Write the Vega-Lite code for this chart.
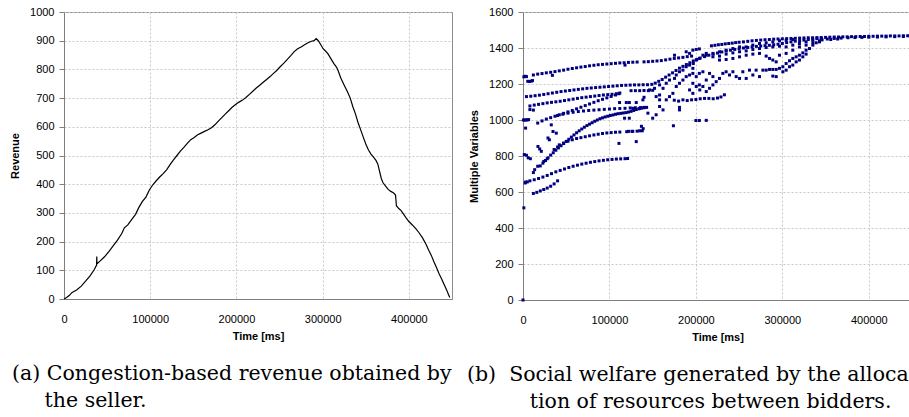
{
  "$schema": "https://vega.github.io/schema/vega-lite/v6.json",
  "background": "white",
  "padding": {"left": 9, "top": 5, "right": 0, "bottom": 0},
  "bounds": "flush",
  "spacing": 71,
  "datasets": {
    "rev": [
      {"t":0,"v":0},{"t":3000,"v":5},{"t":6000,"v":12},{"t":9000,"v":22},{"t":12000,"v":27},{"t":15000,"v":32},{"t":20000,"v":45},{"t":25000,"v":62},{"t":30000,"v":80},{"t":35000,"v":102},{"t":37800,"v":118},{"t":38000,"v":148},{"t":38200,"v":122},{"t":42000,"v":133},{"t":47000,"v":147},{"t":52000,"v":165},{"t":57000,"v":185},{"t":62000,"v":205},{"t":67000,"v":228},{"t":70000,"v":248},{"t":74000,"v":258},{"t":78000,"v":275},{"t":83000,"v":295},{"t":87000,"v":320},{"t":91000,"v":340},{"t":95000,"v":355},{"t":99000,"v":380},{"t":103000,"v":398},{"t":107000,"v":412},{"t":111000,"v":425},{"t":115000,"v":437},{"t":119000,"v":450},{"t":123000,"v":468},{"t":127000,"v":485},{"t":131000,"v":500},{"t":135000,"v":515},{"t":139000,"v":528},{"t":143000,"v":542},{"t":147000,"v":555},{"t":151000,"v":563},{"t":155000,"v":572},{"t":159000,"v":578},{"t":163000,"v":584},{"t":167000,"v":590},{"t":171000,"v":597},{"t":175000,"v":607},{"t":179000,"v":620},{"t":183000,"v":632},{"t":187000,"v":644},{"t":191000,"v":656},{"t":195000,"v":668},{"t":199000,"v":678},{"t":203000,"v":686},{"t":207000,"v":693},{"t":211000,"v":702},{"t":215000,"v":713},{"t":219000,"v":724},{"t":223000,"v":735},{"t":227000,"v":745},{"t":231000,"v":755},{"t":235000,"v":765},{"t":239000,"v":775},{"t":243000,"v":786},{"t":247000,"v":797},{"t":251000,"v":810},{"t":255000,"v":822},{"t":259000,"v":835},{"t":263000,"v":848},{"t":267000,"v":862},{"t":271000,"v":872},{"t":275000,"v":878},{"t":279000,"v":886},{"t":283000,"v":893},{"t":287000,"v":898},{"t":290000,"v":900},{"t":292500,"v":907},{"t":295000,"v":900},{"t":298000,"v":885},{"t":300500,"v":872},{"t":303000,"v":865},{"t":306000,"v":855},{"t":309000,"v":840},{"t":313000,"v":820},{"t":316000,"v":808},{"t":318000,"v":795},{"t":321000,"v":770},{"t":325000,"v":745},{"t":329000,"v":720},{"t":332000,"v":700},{"t":335000,"v":670},{"t":338000,"v":645},{"t":341000,"v":615},{"t":344000,"v":590},{"t":347000,"v":565},{"t":350000,"v":540},{"t":353000,"v":520},{"t":356000,"v":505},{"t":359000,"v":494},{"t":362000,"v":482},{"t":364000,"v":470},{"t":366000,"v":445},{"t":368000,"v":420},{"t":370000,"v":405},{"t":373000,"v":393},{"t":376000,"v":382},{"t":379000,"v":375},{"t":382000,"v":370},{"t":384500,"v":362},{"t":385000,"v":345},{"t":385500,"v":325},{"t":388000,"v":316},{"t":391000,"v":308},{"t":394000,"v":295},{"t":397000,"v":282},{"t":400000,"v":270},{"t":404000,"v":258},{"t":408000,"v":245},{"t":412000,"v":230},{"t":416000,"v":212},{"t":420000,"v":190},{"t":423000,"v":170},{"t":426000,"v":152},{"t":429000,"v":130},{"t":432000,"v":110},{"t":435000,"v":88},{"t":438000,"v":70},{"t":441000,"v":50},{"t":444000,"v":30},{"t":446000,"v":15},{"t":447500,"v":5}
    ],
    "sw": [
      {"t":0,"v":0},{"t":1000,"v":512},{"t":500,"v":1000},{"t":2000,"v":1000},{"t":3500,"v":1000},{"t":5000,"v":1001},{"t":6500,"v":1002},{"t":1000,"v":1240},{"t":2500,"v":1243},{"t":4000,"v":1241},{"t":5500,"v":1215},{"t":7500,"v":1214},{"t":9500,"v":1216},{"t":11000,"v":1219},{"t":3000,"v":955},{"t":1500,"v":808},{"t":4000,"v":804},{"t":6000,"v":790},{"t":8500,"v":785},{"t":2500,"v":650},{"t":5000,"v":656},
      {"t":12000,"v":1250},{"t":17000,"v":1255},{"t":22000,"v":1258},{"t":27000,"v":1262},{"t":32000,"v":1265},{"t":37000,"v":1269},{"t":42000,"v":1273},{"t":47000,"v":1277},{"t":52000,"v":1282},{"t":57000,"v":1286},{"t":62000,"v":1290},{"t":67000,"v":1294},{"t":72000,"v":1297},{"t":77000,"v":1301},{"t":82000,"v":1304},{"t":87000,"v":1307},{"t":92000,"v":1309},{"t":97000,"v":1311},{"t":102000,"v":1313},{"t":107000,"v":1315},{"t":112000,"v":1317},{"t":117000,"v":1318},{"t":122000,"v":1320},{"t":127000,"v":1321},{"t":132000,"v":1322},{"t":140000,"v":1323},{"t":145000,"v":1324},{"t":150000,"v":1326},{"t":155000,"v":1328},{"t":160000,"v":1330},{"t":165000,"v":1334},{"t":170000,"v":1338},{"t":175000,"v":1342},{"t":180000,"v":1345},{"t":185000,"v":1348},{"t":190000,"v":1352},{"t":195000,"v":1355},{"t":34000,"v":1248},{"t":118000,"v":1305},
      {"t":218000,"v":1412},{"t":222000,"v":1415},{"t":226000,"v":1418},{"t":230000,"v":1420},{"t":234000,"v":1423},{"t":238000,"v":1425},{"t":242000,"v":1427},{"t":246000,"v":1430},{"t":250000,"v":1432},{"t":255000,"v":1434},{"t":260000,"v":1437},{"t":265000,"v":1440},{"t":270000,"v":1442},{"t":275000,"v":1444},{"t":280000,"v":1446},{"t":285000,"v":1447},{"t":290000,"v":1449},{"t":295000,"v":1450},{"t":300000,"v":1451},{"t":305000,"v":1452},{"t":310000,"v":1453},{"t":315000,"v":1454},{"t":320000,"v":1455},{"t":325000,"v":1456},{"t":330000,"v":1457},{"t":335000,"v":1457},{"t":340000,"v":1458},{"t":345000,"v":1458},{"t":350000,"v":1459},{"t":355000,"v":1460},{"t":360000,"v":1461},{"t":365000,"v":1461},{"t":370000,"v":1462},{"t":375000,"v":1462},{"t":380000,"v":1463},{"t":385000,"v":1463},{"t":390000,"v":1464},{"t":395000,"v":1464},{"t":400000,"v":1465},{"t":405000,"v":1465},{"t":410000,"v":1466},{"t":415000,"v":1466},{"t":420000,"v":1466},{"t":425000,"v":1467},{"t":430000,"v":1467},{"t":435000,"v":1467},{"t":440000,"v":1468},{"t":445000,"v":1468},{"t":450000,"v":1468},
      {"t":352000,"v":1450},{"t":360000,"v":1453},{"t":368000,"v":1455},{"t":376000,"v":1457},{"t":384000,"v":1458},{"t":392000,"v":1459},{"t":400000,"v":1460},{"t":410000,"v":1461},{"t":420000,"v":1462},{"t":430000,"v":1463},{"t":440000,"v":1464},{"t":448000,"v":1465},{"t":346000,"v":1445},{"t":356000,"v":1447},{"t":364000,"v":1450},
      {"t":4000,"v":1130},{"t":9000,"v":1132},{"t":14000,"v":1135},{"t":19000,"v":1138},{"t":24000,"v":1142},{"t":29000,"v":1146},{"t":34000,"v":1150},{"t":39000,"v":1154},{"t":44000,"v":1158},{"t":49000,"v":1161},{"t":54000,"v":1164},{"t":59000,"v":1167},{"t":64000,"v":1170},{"t":69000,"v":1173},{"t":74000,"v":1176},{"t":79000,"v":1178},{"t":84000,"v":1180},{"t":89000,"v":1182},{"t":94000,"v":1184},{"t":99000,"v":1186},{"t":104000,"v":1188},{"t":109000,"v":1190},{"t":114000,"v":1192},{"t":119000,"v":1193},{"t":124000,"v":1194},{"t":129000,"v":1195},{"t":134000,"v":1195},{"t":139000,"v":1196},{"t":144000,"v":1196},{"t":149000,"v":1198},{"t":153000,"v":1205},{"t":157000,"v":1215},{"t":161000,"v":1225},{"t":165000,"v":1238},{"t":169000,"v":1250},{"t":173000,"v":1262},{"t":177000,"v":1275},{"t":181000,"v":1288},{"t":185000,"v":1298},{"t":189000,"v":1308},{"t":193000,"v":1318},{"t":197000,"v":1328},{"t":201000,"v":1336},{"t":205000,"v":1344},{"t":210000,"v":1352},{"t":215000,"v":1360},{"t":220000,"v":1366},{"t":225000,"v":1372},{"t":230000,"v":1378},{"t":235000,"v":1383},{"t":240000,"v":1388},{"t":245000,"v":1392},{"t":250000,"v":1396},{"t":255000,"v":1400},{"t":260000,"v":1403},{"t":265000,"v":1406},{"t":270000,"v":1409},{"t":275000,"v":1411},{"t":280000,"v":1413},{"t":285000,"v":1415},{"t":290000,"v":1418},{"t":295000,"v":1421},{"t":300000,"v":1425},{"t":305000,"v":1430},{"t":310000,"v":1434},{"t":315000,"v":1438},{"t":320000,"v":1441},{"t":325000,"v":1444},{"t":330000,"v":1447},{"t":335000,"v":1450},{"t":340000,"v":1452},{"t":345000,"v":1454},
      {"t":8000,"v":1078},{"t":13000,"v":1083},{"t":18000,"v":1087},{"t":23000,"v":1091},{"t":28000,"v":1095},{"t":33000,"v":1098},{"t":38000,"v":1101},{"t":43000,"v":1104},{"t":48000,"v":1108},{"t":53000,"v":1112},{"t":58000,"v":1116},{"t":63000,"v":1120},{"t":68000,"v":1124},{"t":73000,"v":1127},{"t":78000,"v":1130},{"t":83000,"v":1133},{"t":88000,"v":1136},{"t":93000,"v":1139},{"t":98000,"v":1141},{"t":103000,"v":1143},{"t":108000,"v":1146},{"t":112000,"v":1150},{"t":8000,"v":1058},{"t":12000,"v":1055},
      {"t":17000,"v":983},{"t":22000,"v":995},{"t":27000,"v":1005},{"t":32000,"v":1013},{"t":37000,"v":1021},{"t":42000,"v":1029},{"t":47000,"v":1037},{"t":52000,"v":1045},{"t":57000,"v":1053},{"t":62000,"v":1062},{"t":67000,"v":1071},{"t":72000,"v":1080},{"t":77000,"v":1089},{"t":82000,"v":1098},{"t":87000,"v":1107},{"t":92000,"v":1115},{"t":97000,"v":1123},{"t":102000,"v":1131},{"t":107000,"v":1139},{"t":111000,"v":1146},
      {"t":40000,"v":1025},{"t":46000,"v":1032},{"t":52000,"v":1038},{"t":58000,"v":1043},{"t":64000,"v":1047},{"t":70000,"v":1050},{"t":76000,"v":1053},{"t":82000,"v":1055},{"t":88000,"v":1057},{"t":94000,"v":1059},{"t":100000,"v":1061},{"t":106000,"v":1063},{"t":112000,"v":1064},{"t":118000,"v":1065},{"t":124000,"v":1067},{"t":130000,"v":1068},{"t":136000,"v":1069},{"t":140000,"v":1070},
      {"t":20000,"v":745},{"t":23000,"v":760},{"t":26000,"v":775},{"t":29000,"v":790},{"t":32000,"v":805},{"t":35000,"v":818},{"t":38000,"v":832},{"t":41000,"v":845},{"t":44000,"v":857},{"t":47000,"v":869},{"t":50000,"v":881},{"t":53000,"v":893},{"t":56000,"v":905},{"t":59000,"v":917},{"t":62000,"v":929},{"t":65000,"v":940},{"t":68000,"v":950},{"t":71000,"v":960},{"t":74000,"v":969},{"t":77000,"v":977},{"t":80000,"v":985},{"t":83000,"v":993},{"t":86000,"v":1000},{"t":89000,"v":1007},{"t":92000,"v":1012},{"t":95000,"v":1017},{"t":98000,"v":1021},{"t":101000,"v":1025},{"t":104000,"v":1028},{"t":107000,"v":1032},{"t":110000,"v":1035},{"t":113000,"v":1037},{"t":116000,"v":1039},{"t":119000,"v":1041},{"t":122000,"v":1044},{"t":125000,"v":1048},{"t":128000,"v":1053},{"t":131000,"v":1058},{"t":134000,"v":1062},{"t":137000,"v":1066},{"t":140000,"v":1068},{"t":143000,"v":1070},
      {"t":42000,"v":862},{"t":47000,"v":872},{"t":52000,"v":882},{"t":57000,"v":890},{"t":62000,"v":897},{"t":67000,"v":902},{"t":72000,"v":907},{"t":77000,"v":912},{"t":82000,"v":917},{"t":87000,"v":921},{"t":92000,"v":925},{"t":97000,"v":928},{"t":102000,"v":930},{"t":107000,"v":932},{"t":112000,"v":933},{"t":120000,"v":935},{"t":126000,"v":937},{"t":132000,"v":938},{"t":138000,"v":940},
      {"t":3000,"v":655},{"t":8000,"v":662},{"t":13000,"v":668},{"t":18000,"v":675},{"t":23000,"v":683},{"t":28000,"v":692},{"t":33000,"v":702},{"t":38000,"v":712},{"t":43000,"v":720},{"t":48000,"v":728},{"t":53000,"v":736},{"t":58000,"v":743},{"t":63000,"v":749},{"t":68000,"v":755},{"t":73000,"v":760},{"t":78000,"v":765},{"t":83000,"v":769},{"t":88000,"v":773},{"t":93000,"v":776},{"t":98000,"v":779},{"t":103000,"v":781},{"t":108000,"v":783},{"t":113000,"v":784},{"t":118000,"v":785},{"t":121000,"v":786},
      {"t":12000,"v":592},{"t":16000,"v":598},{"t":20000,"v":606},{"t":24000,"v":614},{"t":28000,"v":622},{"t":32000,"v":632},{"t":36000,"v":645},{"t":40000,"v":662},
      {"t":17300,"v":853},{"t":19300,"v":839},{"t":21200,"v":826},{"t":28900,"v":900},{"t":30500,"v":890},{"t":34700,"v":936},{"t":38500,"v":927},{"t":32700,"v":973},{"t":13500,"v":724},{"t":17000,"v":743},{"t":12000,"v":708},{"t":40000,"v":850},{"t":36000,"v":836},{"t":24000,"v":770},{"t":28000,"v":785},
      {"t":131000,"v":1097},{"t":138700,"v":1112},{"t":140000,"v":1126},{"t":135000,"v":1065},{"t":144500,"v":1038},{"t":150000,"v":1010},{"t":154000,"v":1029},{"t":158000,"v":1075},{"t":162000,"v":1056},{"t":165700,"v":1112},{"t":169500,"v":1130},{"t":173400,"v":1148},{"t":158000,"v":1112},{"t":146400,"v":1167},{"t":152200,"v":1176},{"t":158000,"v":1195},{"t":162000,"v":1176},{"t":165700,"v":1204},{"t":169500,"v":1222},{"t":175300,"v":1231},{"t":177300,"v":1250},{"t":181000,"v":1268},{"t":185000,"v":1277},{"t":188800,"v":1296},{"t":192700,"v":1305},{"t":196500,"v":1287},{"t":197000,"v":1314},{"t":200400,"v":1333},{"t":204000,"v":1342},{"t":208100,"v":1360},{"t":212000,"v":1370},{"t":177300,"v":1186},{"t":181000,"v":1204},{"t":185000,"v":1222},{"t":188800,"v":1241},{"t":192700,"v":1250},{"t":196500,"v":1259},{"t":200400,"v":1241},{"t":204000,"v":1259},{"t":208100,"v":1268},{"t":212000,"v":1222},{"t":215800,"v":1259},{"t":219700,"v":1241},{"t":196500,"v":1204},{"t":200400,"v":1186},{"t":204000,"v":1195},{"t":192700,"v":1167},{"t":196500,"v":1148},{"t":204500,"v":1167},{"t":208100,"v":1186},{"t":212000,"v":1158},{"t":215800,"v":1176},{"t":219700,"v":1195},{"t":223500,"v":1213},{"t":227300,"v":1231},{"t":231200,"v":1259},{"t":235000,"v":1268},{"t":238900,"v":1250},{"t":242800,"v":1268},{"t":246600,"v":1241},{"t":250500,"v":1231},{"t":254300,"v":1268},{"t":258200,"v":1231},{"t":262000,"v":1277},{"t":265900,"v":1250},{"t":269700,"v":1277},{"t":273600,"v":1241},{"t":277500,"v":1277},{"t":281300,"v":1277},{"t":285200,"v":1281},{"t":289000,"v":1281},{"t":292900,"v":1281},{"t":289000,"v":1244},{"t":292900,"v":1241},{"t":296700,"v":1287},{"t":300600,"v":1296},{"t":304400,"v":1314},{"t":308300,"v":1329},{"t":312100,"v":1342},{"t":316000,"v":1351},{"t":319800,"v":1360},{"t":323700,"v":1373},{"t":327500,"v":1388},{"t":331400,"v":1397},{"t":335300,"v":1416},{"t":339200,"v":1429},{"t":343000,"v":1440},{"t":300600,"v":1268},{"t":304400,"v":1277},{"t":308300,"v":1296},{"t":312100,"v":1305},{"t":316000,"v":1323},{"t":319800,"v":1333},{"t":323700,"v":1351},{"t":327500,"v":1366},
      {"t":212000,"v":1360},{"t":219700,"v":1370},{"t":227300,"v":1379},{"t":235000,"v":1388},{"t":242800,"v":1397},{"t":250500,"v":1406},{"t":258200,"v":1406},{"t":265900,"v":1416},{"t":273600,"v":1425},{"t":281300,"v":1429},{"t":289000,"v":1434},{"t":296700,"v":1440},{"t":304400,"v":1443},{"t":312100,"v":1447},
      {"t":219700,"v":1351},{"t":227300,"v":1355},{"t":235000,"v":1366},{"t":242800,"v":1373},{"t":250500,"v":1379},{"t":258200,"v":1384},{"t":265900,"v":1392},{"t":273600,"v":1397},{"t":281300,"v":1403},{"t":289000,"v":1406},{"t":296700,"v":1410},{"t":304400,"v":1406},{"t":312100,"v":1416},{"t":319800,"v":1425},{"t":327500,"v":1434},{"t":335300,"v":1443},
      {"t":227300,"v":1333},{"t":235000,"v":1336},{"t":242800,"v":1342},{"t":250500,"v":1351},{"t":258200,"v":1360},{"t":265900,"v":1366},{"t":273600,"v":1370},{"t":281300,"v":1355},{"t":285200,"v":1342},{"t":289000,"v":1333},{"t":292900,"v":1323},{"t":296700,"v":1360},{"t":304400,"v":1370},{"t":312100,"v":1388},{"t":319800,"v":1406},{"t":327500,"v":1416},{"t":335300,"v":1429},{"t":343000,"v":1434},
      {"t":188800,"v":1379},{"t":192700,"v":1370},{"t":196500,"v":1388},{"t":200400,"v":1392},{"t":204000,"v":1395},{"t":175300,"v":1360},
      {"t":125000,"v":1163},{"t":130000,"v":1163},{"t":135000,"v":1163},{"t":140000,"v":1164},{"t":145000,"v":1163},{"t":150000,"v":1165},{"t":154000,"v":1130},{"t":158000,"v":1139},
      {"t":111700,"v":1097},{"t":119500,"v":1097},{"t":123000,"v":1097},{"t":127000,"v":1065},{"t":117500,"v":1010},{"t":123000,"v":1010},
      {"t":111000,"v":870},{"t":131000,"v":880},{"t":135000,"v":940},{"t":137000,"v":965},{"t":139000,"v":952},{"t":127000,"v":937},{"t":122000,"v":937},
      {"t":175000,"v":1110},{"t":180000,"v":1105},{"t":185000,"v":1112},{"t":190000,"v":1108},{"t":195000,"v":1112},{"t":200000,"v":1114},{"t":205000,"v":1118},{"t":210000,"v":1120},{"t":215000,"v":1120},{"t":220000,"v":1118},{"t":225000,"v":1122},{"t":229000,"v":1128},{"t":233000,"v":1140},
      {"t":200000,"v":997},{"t":204000,"v":997},{"t":212000,"v":998},{"t":174000,"v":968},{"t":181000,"v":1056},{"t":181000,"v":1070}
    ]
  },
  "hconcat": [
    {
      "width": 388,
      "height": 287,
      "data": {"name": "rev"},
      "title": {
        "text": ["(a) Congestion-based revenue obtained by", "\u200b\u00a0\u00a0\u00a0\u00a0\u00a0the seller."],
        "orient": "bottom", "anchor": "start", "frame": "group", "dx": -52, "offset": 23,
        "font": "DejaVu Serif", "fontSize": 20.5, "fontWeight": "normal", "color": "#000", "lineHeight": 27
      },
      "mark": {"type": "line", "color": "#000", "strokeWidth": 1.2},
      "encoding": {
        "x": {"field": "t", "type": "quantitative", "title": "Time [ms]",
              "scale": {"domain": [0, 450000], "nice": false},
              "axis": {"values": [0, 100000, 200000, 300000, 400000], "format": "d"}},
        "y": {"field": "v", "type": "quantitative", "title": "Revenue",
              "scale": {"domain": [0, 1000], "nice": false},
              "axis": {"values": [0, 100, 200, 300, 400, 500, 600, 700, 800, 900, 1000], "format": "d"}}
      }
    },
    {
      "width": 389,
      "height": 288,
      "data": {"name": "sw"},
      "title": {
        "text": ["(b)\u00a0\u00a0Social welfare generated by the alloca-", "\u200b\u00a0\u00a0\u00a0\u00a0\u00a0\u00a0\u00a0\u00a0\u00a0\u2009tion of resources between bidders."],
        "orient": "bottom", "anchor": "start", "frame": "group", "dx": -56, "offset": 23,
        "font": "DejaVu Serif", "fontSize": 20.5, "fontWeight": "normal", "color": "#000", "lineHeight": 27
      },
      "mark": {"type": "point", "shape": "square", "filled": true, "size": 9, "color": "#000080", "opacity": 1},
      "encoding": {
        "x": {"field": "t", "type": "quantitative", "title": "Time [ms]",
              "scale": {"domain": [0, 450000], "nice": false},
              "axis": {"values": [0, 100000, 200000, 300000, 400000], "format": "d"}},
        "y": {"field": "v", "type": "quantitative", "title": "Multiple Variables",
              "scale": {"domain": [0, 1600], "nice": false},
              "axis": {"values": [0, 200, 400, 600, 800, 1000, 1200, 1400, 1600], "format": "d"}}
      }
    }
  ],
  "config": {
    "view": {"stroke": "#8c8c8c", "strokeWidth": 1},
    "axis": {
      "labelFont": "Liberation Sans", "labelFontSize": 11, "labelColor": "#000",
      "titleFont": "Liberation Sans", "titleFontSize": 11, "titleFontWeight": "bold", "titleColor": "#000",
      "domainColor": "#7f7f7f", "tickColor": "#7f7f7f",
      "grid": true, "gridColor": "#c8c8c8", "gridDash": [2, 2], "gridWidth": 1
    },
    "axisX": {"ticks": false, "labelPadding": 14, "titlePadding": 6, "labelFlush": false},
    "axisY": {"tickSize": 5, "labelPadding": 5, "titlePadding": 9}
  }
}
